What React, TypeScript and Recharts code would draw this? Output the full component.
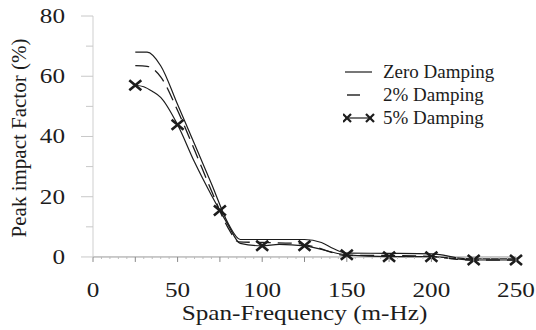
import React from 'react';
import { LineChart, Line, XAxis, YAxis, ReferenceLine } from 'recharts';

// readings taken off the figure
const zeroFreq = [25, 32, 40, 50, 60, 70, 80, 87, 100, 125, 135, 142, 150, 175, 200, 205, 215, 225, 250];
const zeroPeak = [68, 68, 63.5, 50.6, 37.5, 24.3, 11, 5.8, 5.8, 5.8, 4.8, 2.8, 1.3, 1.2, 1.0, 0.8, -0.3, -0.6, -0.6];

const twoFreq = [25, 32, 40, 50, 60, 70, 80, 86, 100, 120, 130, 150, 175, 200, 215, 225, 250];
const twoPeak = [63.5, 63.3, 59.8, 48.6, 35.5, 22, 9.5, 5, 4.8, 4.5, 3.5, 0.5, 0.5, 0.2, -0.8, -1, -1];

const fiveFreq = [25, 30, 35, 40, 50, 60, 70, 75, 80, 87, 100, 110, 125, 150, 175, 200, 225, 250];
const fivePeak = [57, 56.5, 55, 53, 43.9, 31.5, 20.5, 15.4, 10.5, 4.5, 3.7, 4.2, 3.7, 0.7, 0.1, 0.1, -1, -1];

const xTicks = Array.from({ length: 51 }, (_, i) => i * 5);
const yTicks = [0, 10, 20, 30, 40, 50, 60, 70, 80];
const seriesNames = ['Zero Damping', '2% Damping', '5% Damping'];

const toRows = (xs: number[], ys: number[]) => xs.map((x, i) => ({ x, y: ys[i] }));
const zeroData = toRows(zeroFreq, zeroPeak);
const twoData = toRows(twoFreq, twoPeak);
const fiveData = toRows(fiveFreq, fivePeak);

const W = 536;
const H = 330;
const M = { top: 16, right: 20, bottom: 0, left: 0 };
const X_AXIS_H = 64;
const Y_MIN = -3;
const Y_MAX = 80;
const plotH = H - M.top - M.bottom - X_AXIS_H;
const zeroOffset = (-Y_MIN / (Y_MAX - Y_MIN)) * plotH;

const INK = '#1c1c1c';
const FONT = '"Liberation Serif", "Times New Roman", serif';

const XTick = (props: any) => {
  const { x, y, payload } = props;
  const v = payload.value;
  const ly = y - zeroOffset;
  const major = v % 25 === 0;
  return (
    <g>
      <line x1={x} x2={x} y1={ly} y2={ly + (major ? 5 : 2)} stroke={major ? '#888' : '#bbb'} />
      {v % 50 === 0 && (
        <text
          transform={`translate(${x},${y + 31}) scale(1.2,1)`}
          textAnchor="middle"
          fontFamily={FONT}
          fontSize={21}
          fill={INK}
        >
          {v}
        </text>
      )}
    </g>
  );
};

const YTick = (props: any) => {
  const { x, y, payload } = props;
  const v = payload.value;
  const major = v % 20 === 0;
  return (
    <g>
      <line x1={x - (major ? 12 : 7)} x2={x} y1={y} y2={y} stroke="#c8c8c8" />
      {major && (
        <text
          transform={`translate(${x - 28},${y + 7}) scale(1.2,1)`}
          textAnchor="end"
          fontFamily={FONT}
          fontSize={21}
          fill={INK}
        >
          {v}
        </text>
      )}
    </g>
  );
};

const CrossDot = (props: any) => {
  const { cx, cy, payload, index } = props;
  if (payload.x % 25 !== 0) return <g key={`d${index}`} />;
  return (
    <path
      key={`d${index}`}
      d={`M${cx - 6},${cy - 5}L${cx + 6},${cy + 5}M${cx - 6},${cy + 5}L${cx + 6},${cy - 5}`}
      stroke={INK}
      strokeWidth={2.6}
      fill="none"
    />
  );
};

const LegendBox = () => (
  <div
    style={{
      position: 'absolute',
      left: 343,
      top: 60,
      width: 180,
      fontFamily: FONT,
      fontSize: 19,
      color: INK,
      lineHeight: '23px',
    }}
  >
    {seriesNames.map((name, i) => (
      <div key={name} style={{ display: 'flex', alignItems: 'center', height: 23 }}>
        <svg width={40} height={20} style={{ flex: 'none' }}>
          {i === 0 && <line x1={2} x2={29} y1={10} y2={10} stroke={INK} strokeWidth={1.2} />}
          {i === 1 && <line x1={4} x2={17} y1={10} y2={10} stroke={INK} strokeWidth={1.4} />}
          {i === 2 && (
            <g stroke={INK} fill="none">
              <line x1={2} x2={29} y1={10} y2={10} strokeWidth={1.2} />
              <path d="M0,6L8,14M0,14L8,6M23,6L31,14M23,14L31,6" strokeWidth={2.2} />
            </g>
          )}
        </svg>
        <span>{name}</span>
      </div>
    ))}
  </div>
);

export default function App() {
  return (
    <div style={{ position: 'absolute', left: 0, top: 0, width: W, height: H, background: '#fff' }}>
      <LineChart width={W} height={H} margin={M}>
        <XAxis
          type="number"
          dataKey="x"
          domain={[0, 250]}
          ticks={xTicks}
          interval={0}
          axisLine={false}
          tickLine={false}
          tickSize={0}
          tickMargin={0}
          tick={<XTick />}
          height={X_AXIS_H}
          label={{
            content: (p: any) => {
              const vb = p.viewBox;
              return (
                <text
                  transform={`translate(${vb.x + vb.width / 2},${H - 10}) scale(1.2,1)`}
                  textAnchor="middle"
                  fontFamily={FONT}
                  fontSize={21}
                  fill={INK}
                >
                  Span-Frequency (m-Hz)
                </text>
              );
            },
          }}
        />
        <YAxis
          type="number"
          domain={[Y_MIN, Y_MAX]}
          ticks={yTicks}
          interval={0}
          width={93}
          axisLine={false}
          tickLine={false}
          tickSize={0}
          tickMargin={0}
          tick={<YTick />}
          label={{
            content: () => (
              <text
                transform="translate(26,138) rotate(-90)"
                textAnchor="middle"
                fontFamily={FONT}
                fontSize={21}
                fill={INK}
              >
                Peak impact Factor (%)
              </text>
            ),
          }}
        />
        <ReferenceLine y={0} stroke="#999" strokeWidth={1} />
        <ReferenceLine segment={[{ x: 0, y: 0 }, { x: 0, y: 80 }]} stroke="#cfcfcf" />
        <Line
          data={zeroData}
          dataKey="y"
          name={seriesNames[0]}
          type="monotone"
          stroke={INK}
          strokeWidth={1.2}
          dot={false}
          isAnimationActive={false}
        />
        <Line
          data={twoData}
          dataKey="y"
          name={seriesNames[1]}
          type="monotone"
          stroke={INK}
          strokeWidth={1.3}
          strokeDasharray="14 7"
          dot={false}
          isAnimationActive={false}
        />
        <Line
          data={fiveData}
          dataKey="y"
          name={seriesNames[2]}
          type="monotone"
          stroke={INK}
          strokeWidth={1.2}
          dot={CrossDot}
          isAnimationActive={false}
        />
      </LineChart>
      <LegendBox />
    </div>
  );
}
